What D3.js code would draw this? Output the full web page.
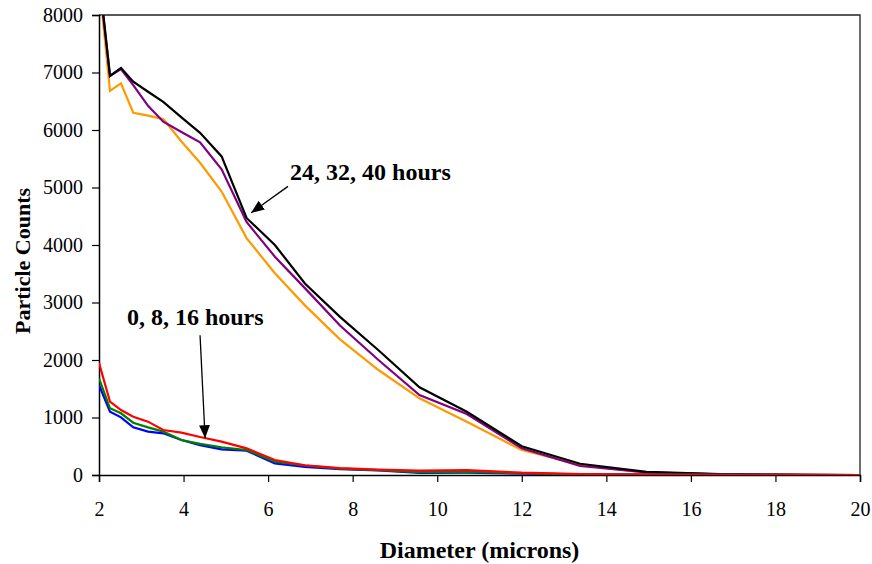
<!DOCTYPE html>
<html>
<head>
<meta charset="utf-8">
<script src="https://cdn.jsdelivr.net/npm/d3@7"></script>
<style>
    body { margin: 0; background: #fff; }
    text { font-family: "Liberation Serif", "Times New Roman", serif; }
</style>
</head>
<body>
<div id="chart"></div>
<script>
// particle size bins (microns)
const diameters = [2, 2.26, 2.52, 2.81, 3.16, 3.52, 3.95, 4.39, 4.90, 5.49, 6.16, 6.87, 7.70, 8.61, 9.58, 10.70, 12.0, 13.38, 14.95, 16.7, 18.7, 20];

// counts per series
const hours0  = [1565, 1101, 1003, 829, 754, 725, 609, 520, 446, 423, 203, 140, 100, 80, 35, 40, 25, 10, 5, 2, 0, 0];
const hours8  = [1680, 1160, 1073, 910, 829, 754, 609, 540, 481, 435, 232, 165, 110, 85, 50, 55, 30, 10, 5, 2, 0, 0];
const hours16 = [1950, 1275, 1130, 1014, 928, 783, 736, 660, 580, 464, 261, 170, 120, 95, 75, 85, 40, 17, 8, 3, 1, 0];
const hours24 = [8600, 6680, 6810, 6300, 6250, 6190, 5800, 5430, 4930, 4120, 3508, 2950, 2360, 1826, 1334, 927, 435, 174, 40, 10, 3, 0];
const hours32 = [8650, 6940, 7060, 6780, 6420, 6145, 5965, 5785, 5317, 4400, 3797, 3250, 2600, 2000, 1390, 1060, 464, 157, 45, 12, 3, 0];
const hours40 = [8700, 6940, 7080, 6840, 6665, 6490, 6220, 5950, 5540, 4470, 4000, 3330, 2750, 2170, 1525, 1100, 500, 195, 55, 15, 3, 0];

const xTicks = [2, 4, 6, 8, 10, 12, 14, 16, 18, 20];
const yTicks = [0, 1000, 2000, 3000, 4000, 5000, 6000, 7000, 8000];

// drawn back to front
const series = [
    { name: "24 hours", values: hours24, color: "#ff9900" },
    { name: "32 hours", values: hours32, color: "#800080" },
    { name: "40 hours", values: hours40, color: "#000000" },
    { name: "0 hours",  values: hours0,  color: "#0000ff" },
    { name: "8 hours",  values: hours8,  color: "#008000" },
    { name: "16 hours", values: hours16, color: "#ff0000" }
];

// annotation labels and arrow ends, in data units
const notes = [
    { text: "24, 32, 40 hours", tx: 6.52, ty: 5130, from: [6.47, 5020], to: [5.60, 4560] },
    { text: "0, 8, 16 hours",   tx: 2.66, ty: 2609, from: [4.39, 2430], to: [4.51, 640] }
];

function renderChart() {
    const width = 872, height = 564;
    const margin = { top: 15, right: 12, bottom: 89, left: 99 };
    const innerW = width - margin.left - margin.right;
    const innerH = height - margin.top - margin.bottom;

    const svg = d3.select("#chart")
        .append("svg")
        .attr("width", width)
        .attr("height", height);

    const defs = svg.append("defs");
    defs.append("clipPath")
        .attr("id", "plot-clip")
        .append("rect")
        .attr("width", innerW)
        .attr("height", innerH);

    defs.append("marker")
        .attr("id", "arrow")
        .attr("viewBox", "0 0 12 10")
        .attr("refX", 12)
        .attr("refY", 5)
        .attr("markerWidth", 13)
        .attr("markerHeight", 11)
        .attr("markerUnits", "userSpaceOnUse")
        .attr("orient", "auto")
        .append("path")
        .attr("d", "M0,0 L12,5 L0,10 Z")
        .attr("fill", "#000");

    const g = svg.append("g")
        .attr("transform", `translate(${margin.left},${margin.top})`);

    const xScale = d3.scaleLinear().domain([2, 20]).range([0, innerW]);
    const yScale = d3.scaleLinear().domain([0, 8000]).range([innerH, 0]);

    // plot frame (top and right)
    g.append("path")
        .attr("d", `M0,0 H${innerW} V${innerH}`)
        .attr("fill", "none")
        .attr("stroke", "#222")
        .attr("stroke-width", 1.3);

    const xAxis = g.append("g")
        .attr("transform", `translate(0,${innerH})`)
        .call(d3.axisBottom(xScale).tickValues(xTicks).tickSize(7).tickPadding(20).tickFormat(d3.format("d")));

    const yAxis = g.append("g")
        .call(d3.axisLeft(yScale).tickValues(yTicks).tickSize(7).tickPadding(9).tickFormat(d3.format("d")));

    [xAxis, yAxis].forEach(ax => {
        ax.select(".domain").attr("stroke", "#000").attr("stroke-width", 1.5);
        ax.selectAll(".tick line").attr("stroke", "#000").attr("stroke-width", 1.2);
        ax.selectAll(".tick text")
            .attr("fill", "#000")
            .style("font-family", "'Liberation Serif', 'Times New Roman', serif")
            .style("font-size", "20px");
    });

    const line = d3.line()
        .x((d, i) => xScale(diameters[i]))
        .y(d => yScale(d));

    const lines = g.append("g").attr("clip-path", "url(#plot-clip)");
    lines.selectAll("path")
        .data(series)
        .enter()
        .append("path")
        .attr("d", d => line(d.values))
        .attr("fill", "none")
        .attr("stroke", d => d.color)
        .attr("stroke-width", 2.2)
        .attr("stroke-linejoin", "miter");

    // annotations
    g.selectAll(".note-arrow")
        .data(notes)
        .enter()
        .append("line")
        .attr("class", "note-arrow")
        .attr("x1", d => xScale(d.from[0]))
        .attr("y1", d => yScale(d.from[1]))
        .attr("x2", d => xScale(d.to[0]))
        .attr("y2", d => yScale(d.to[1]))
        .attr("stroke", "#000")
        .attr("stroke-width", 1.3)
        .attr("marker-end", "url(#arrow)");

    g.selectAll(".note-label")
        .data(notes)
        .enter()
        .append("text")
        .attr("class", "note-label")
        .attr("x", d => xScale(d.tx))
        .attr("y", d => yScale(d.ty))
        .attr("font-size", 24)
        .attr("font-weight", "bold")
        .text(d => d.text);

    // axis titles
    svg.append("text")
        .attr("x", margin.left + innerW / 2)
        .attr("y", 558)
        .attr("text-anchor", "middle")
        .attr("font-size", 24)
        .attr("font-weight", "bold")
        .text("Diameter (microns)");

    svg.append("text")
        .attr("transform", "translate(30,261) rotate(-90)")
        .attr("text-anchor", "middle")
        .attr("font-size", 22)
        .attr("font-weight", "bold")
        .text("Particle Counts");
}

document.addEventListener("DOMContentLoaded", renderChart);
</script>
</body>
</html>
